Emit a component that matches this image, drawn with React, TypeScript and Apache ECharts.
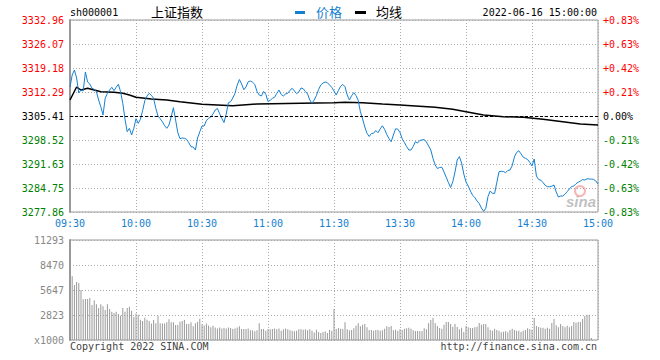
import React, { useEffect, useRef } from "react";
import * as echarts from "echarts";

const prevClose = 3305.41;
const priceMin = 3277.86;
const priceMax = 3332.96;
const volMax = 11293;

const leftTickLabels = ["3277.86", "3284.75", "3291.63", "3298.52", "3305.41", "3312.29", "3319.18", "3326.07", "3332.96"];
const rightTickLabels = ["-0.83%", "-0.63%", "-0.42%", "-0.21%", "0.00%", "+0.21%", "+0.42%", "+0.63%", "+0.83%"];
const volTickLabels = ["x1000", "2823", "5647", "8470", "11293"];
const xTickLabels = ["09:30", "10:00", "10:30", "11:00", "11:30", "13:30", "14:00", "14:30", "15:00"];

const prices = [
  3313.73, 3317.18, 3318.61, 3316.32, 3312.01, 3312.87, 3312.58, 3318.04, 3315.17, 3314.59,
  3313.36, 3313.07, 3312.38, 3310.00, 3308.08, 3305.70, 3310.49, 3311.92, 3312.87, 3313.65,
  3312.67, 3313.65, 3314.51, 3312.38, 3309.05, 3304.46, 3300.90, 3301.88, 3299.96, 3301.88,
  3304.64, 3303.32, 3304.46, 3306.93, 3309.80, 3311.15, 3311.92, 3311.35, 3310.49, 3307.62,
  3305.41, 3304.64, 3303.77, 3302.63, 3301.88, 3302.83, 3305.21, 3307.79, 3304.26, 3300.62,
  3298.90, 3299.10, 3299.01, 3298.72, 3297.75, 3296.60, 3296.51, 3295.65, 3299.10, 3300.90,
  3302.54, 3302.54, 3304.12, 3304.75, 3305.12, 3305.98, 3307.13, 3307.56, 3306.13, 3304.69,
  3303.54, 3305.98, 3309.23, 3309.51, 3310.58, 3311.92, 3314.31, 3315.88, 3314.59, 3312.96,
  3313.73, 3315.25, 3315.45, 3315.08, 3314.45, 3312.44, 3311.44, 3311.15, 3312.44, 3311.64,
  3309.57, 3309.92, 3310.49, 3310.78, 3311.92, 3312.87, 3311.58, 3311.15, 3311.72, 3311.95,
  3312.79, 3313.36, 3312.58, 3311.84, 3312.30, 3313.45, 3313.24, 3312.44, 3311.72, 3310.00,
  3309.08, 3310.00, 3311.29, 3313.02, 3314.31, 3314.88, 3315.17, 3314.97, 3314.31, 3313.59,
  3312.58, 3311.44, 3312.73, 3313.93, 3314.45, 3313.79, 3311.44, 3310.00, 3311.24, 3312.10,
  3311.26, 3309.92, 3306.64, 3304.55, 3302.25, 3300.45, 3299.53, 3300.39, 3300.45, 3301.25,
  3300.62, 3301.71, 3302.60, 3301.59, 3300.10, 3298.92, 3298.03, 3299.96, 3301.74, 3301.62,
  3300.67, 3298.87, 3297.80, 3296.66, 3295.65, 3295.65, 3296.66, 3298.03, 3297.66, 3298.38,
  3298.52, 3298.67, 3297.95, 3296.80, 3295.65, 3293.21, 3291.35, 3290.34, 3290.63, 3290.72,
  3289.34, 3287.85, 3286.33, 3284.89, 3286.56, 3289.34, 3292.78, 3293.76, 3291.92, 3288.77,
  3286.47, 3285.32, 3283.89, 3282.65, 3282.02, 3281.02, 3280.30, 3279.01, 3278.06, 3278.92,
  3282.31, 3283.89, 3283.23, 3283.17, 3286.33, 3289.43, 3289.54, 3289.48, 3289.14, 3289.77,
  3289.91, 3291.15, 3293.64, 3294.94, 3295.42, 3294.56, 3293.59, 3293.27, 3292.93, 3292.07,
  3291.06, 3293.07, 3288.19, 3287.19, 3286.99, 3286.33, 3285.52, 3285.12, 3285.12, 3285.26,
  3285.61, 3283.60, 3282.16, 3282.45, 3282.45, 3282.97, 3283.69, 3284.46, 3285.18, 3285.32,
  3285.98, 3286.41, 3286.76, 3287.16, 3287.04, 3287.39, 3287.33, 3287.30, 3287.24, 3286.76,
  3285.90,
];

const avgPoints = [
  [0, 3310.0], [3, 3313.73], [5, 3312.87], [8, 3313.36], [14, 3312.38], [20, 3312.21],
  [24, 3311.92], [27, 3311.44], [30, 3310.78], [37, 3310.29], [44, 3310.0], [50, 3309.51],
  [60, 3308.77], [74, 3308.37], [85, 3308.85], [105, 3309.06], [120, 3309.23], [125, 3309.34],
  [133, 3309.23], [142, 3308.85], [150, 3308.57], [157, 3308.28], [166, 3307.91], [174, 3307.33],
  [180, 3306.64], [188, 3305.7], [197, 3305.21], [206, 3305.04], [215, 3304.46], [224, 3303.77],
  [232, 3303.11], [240, 3302.83],
];

const volumes = [
  7000, 7200, 6200, 6550, 6450, 5650, 4600, 4620, 4620, 4750,
  3950, 4500, 4050, 3600, 4050, 3800, 3400, 4050, 3500, 3200,
  3050, 3200, 2950, 2750, 3600, 3200, 3600, 3750, 3300, 2600,
  3000, 2850, 2300, 2150, 2500, 2300, 2150, 1850, 2250, 1900,
  2750, 1900, 1850, 1850, 2000, 2350, 2000, 2000, 1700, 1700,
  2050, 2150, 2250, 1800, 1800, 2000, 1550, 1900, 2050, 2400,
  1750, 1650, 1850, 1650, 1450, 1600, 1400, 1300, 1400, 1300,
  1350, 1300, 1400, 1350, 1250, 1300, 1400, 1550, 1250, 1250,
  1250, 1300, 1100, 1100, 1000, 1100, 1900, 1250, 1250, 1050,
  1250, 1200, 1250, 1300, 1200, 1300, 1050, 1200, 1300, 1200,
  1100, 1050, 1000, 1050, 1200, 1200, 1150, 1200, 1100, 1200,
  1050, 850, 1150, 900, 800, 900, 1000, 800, 1150, 1050,
  3500, 1242, 1355, 1280, 1242, 1995, 1204, 1092, 1129, 1317,
  1619, 1882, 1543, 1731, 1807, 1430, 1129, 1129, 1054, 1129,
  1129, 1054, 1092, 1280, 1543, 1468, 1581, 1092, 1167, 1054,
  1204, 1129, 1280, 1317, 1393, 1280, 1092, 1016, 1016, 1016,
  1016, 1317, 1204, 1882, 2258, 2484, 1882, 1581, 1355, 1280,
  1731, 2033, 2033, 1807, 1506, 1807, 1468, 1204, 1393, 903,
  1581, 1430, 1355, 1355, 1430, 1506, 1920, 1731, 1807, 1807,
  1430, 1129, 1054, 1280, 1129, 1054, 866, 941, 979, 866,
  1129, 1280, 1129, 1054, 1054, 903, 1054, 1129, 1317, 1242,
  1167, 2484, 1581, 1468, 1393, 1393, 1280, 1393, 1280, 1920,
  2371, 1656, 1430, 1807, 1581, 1430, 1619, 1430, 1581, 2033,
  1957, 2033, 2033, 2371, 2710, 2861, 2861, 226, 0, 0,
  0,
];

function buildTimes(): string[] {
  const out: string[] = [];
  const pad = (n: number) => (n < 10 ? "0" + n : "" + n);
  for (let m = 9 * 60 + 30; m <= 11 * 60 + 30; m++) out.push(pad(Math.floor(m / 60)) + ":" + pad(m % 60));
  for (let m = 13 * 60 + 1; m <= 15 * 60; m++) out.push(pad(Math.floor(m / 60)) + ":" + pad(m % 60));
  return out;
}

const MONO = '"DejaVu Sans Mono", "Liberation Mono", monospace';
const CJK = '"Noto Sans CJK SC", sans-serif';
const BLUE = "#1580d0";
const GRID_LINE = { color: "#aaaaaa", type: [1, 2] as any, width: 1 };

export default function App() {
  const ref = useRef<HTMLDivElement>(null);
  useEffect(() => {
    document.body.style.margin = "0";
    const chart = echarts.init(ref.current!, null, { renderer: "svg" });
    const times = buildTimes();
    const priceInterval = (priceMax - priceMin) / 8;
    const volInterval = volMax / 4;
    const tickIdx = (v: any) => Math.round((Number(v) - priceMin) / priceInterval);
    const tickColor = (v: any) => {
      const k = tickIdx(v);
      return k > 4 ? "#ff0000" : k < 4 ? "#008000" : "#000000";
    };
    const option: any = {
      animation: false,
      backgroundColor: "#ffffff",
      grid: [
        { left: 70, right: 62, top: 20, height: 192, show: true, borderColor: "#999", borderWidth: 1 },
        { left: 70, right: 62, top: 240, height: 100, show: true, borderColor: "#999", borderWidth: 1 },
      ],
      xAxis: [
        {
          type: "category", gridIndex: 0, data: times, boundaryGap: false,
          axisLine: { show: false }, axisTick: { show: false },
          axisLabel: {
            interval: 29, showMinLabel: true, showMaxLabel: true, margin: 6,
            color: BLUE, fontFamily: MONO, fontSize: 10,
            formatter: (_v: string, idx: number) => xTickLabels[Math.round(idx / 30)] || "",
          },
          splitLine: { show: true, interval: 29, lineStyle: GRID_LINE },
        },
        {
          type: "category", gridIndex: 1, data: times, boundaryGap: false,
          axisLine: { show: false }, axisTick: { show: false }, axisLabel: { show: false },
          splitLine: { show: true, interval: 29, lineStyle: GRID_LINE },
        },
      ],
      yAxis: [
        {
          type: "value", gridIndex: 0, min: priceMin, max: priceMax, interval: priceInterval, position: "left",
          axisLine: { show: true, lineStyle: { color: "#999", width: 2 } }, axisTick: { show: false },
          axisLabel: {
            margin: 6, fontFamily: MONO, fontSize: 10,
            formatter: (v: number) => leftTickLabels[tickIdx(v)] || "",
            color: tickColor,
          },
          splitLine: { show: true, lineStyle: GRID_LINE },
        },
        {
          type: "value", gridIndex: 0, min: priceMin, max: priceMax, interval: priceInterval, position: "right",
          axisLine: { show: false }, axisTick: { show: false },
          axisLabel: {
            margin: 5, fontFamily: MONO, fontSize: 10,
            formatter: (v: number) => rightTickLabels[tickIdx(v)] || "",
            color: tickColor,
          },
          splitLine: { show: false },
        },
        {
          type: "value", gridIndex: 1, min: 0, max: volMax, interval: volInterval, position: "left",
          axisLine: { show: true, lineStyle: { color: "#999", width: 2 } }, axisTick: { show: false },
          axisLabel: {
            margin: 6, fontFamily: MONO, fontSize: 10, color: "#888",
            formatter: (v: number) => volTickLabels[Math.round(v / volInterval)] || "",
          },
          splitLine: { show: true, lineStyle: GRID_LINE },
        },
      ],
      series: [
        {
          type: "line", name: "价格", xAxisIndex: 0, yAxisIndex: 0, data: prices,
          symbol: "none", showSymbol: false, z: 4,
          lineStyle: { color: BLUE, width: 1 },
          markLine: {
            silent: true, symbol: ["none", "none"], label: { show: false },
            lineStyle: { color: "#000", type: [3, 2], width: 1 },
            data: [{ yAxis: prevClose }],
          },
        },
        {
          type: "line", name: "均线", xAxisIndex: 0, yAxisIndex: 0, data: avgPoints,
          symbol: "none", showSymbol: false, z: 3,
          lineStyle: { color: "#000", width: 1.5 },
        },
        {
          type: "bar", name: "成交量", xAxisIndex: 1, yAxisIndex: 2, data: volumes,
          barWidth: 1, itemStyle: { color: "#999" },
        },
      ],
      graphic: [
        { type: "text", left: 70, top: 7, style: { text: "sh000001", fill: "#000", fontFamily: MONO, fontSize: 10 } },
        { type: "text", left: 151, top: 5, style: { text: "上证指数", fill: "#000", fontFamily: CJK, fontSize: 13 } },
        { type: "rect", left: 295, top: 11, shape: { width: 10, height: 3 }, style: { fill: BLUE } },
        { type: "text", left: 316, top: 5, style: { text: "价格", fill: BLUE, fontFamily: CJK, fontSize: 13 } },
        { type: "rect", left: 355, top: 11, shape: { width: 11, height: 3 }, style: { fill: "#000" } },
        { type: "text", left: 376, top: 5, style: { text: "均线", fill: "#000", fontFamily: CJK, fontSize: 13 } },
        { type: "text", right: 63, top: 7, style: { text: "2022-06-16 15:00:00", fill: "#000", fontFamily: MONO, fontSize: 10 } },
        { type: "text", left: 70, top: 341, style: { text: "Copyright 2022 SINA.COM", fill: "#444", fontFamily: MONO, fontSize: 10 } },
        { type: "text", right: 63, top: 341, style: { text: "http://finance.sina.com.cn", fill: "#444", fontFamily: MONO, fontSize: 10 } },
        { type: "circle", shape: { cx: 580, cy: 191, r: 5 }, style: { fill: "none", stroke: "rgba(240,90,90,0.45)", lineWidth: 2 }, z: 1 },
        { type: "text", left: 566, top: 194, style: { text: "sina", fill: "rgba(150,150,150,0.6)", fontFamily: '"Liberation Sans", Arial, sans-serif', fontSize: 15, fontWeight: "bold", fontStyle: "italic" }, z: 1 },
      ],
    };
    chart.setOption(option);
    return () => chart.dispose();
  }, []);
  return <div ref={ref} style={{ position: "fixed", left: 0, top: 0, width: 660, height: 360 }} />;
}
